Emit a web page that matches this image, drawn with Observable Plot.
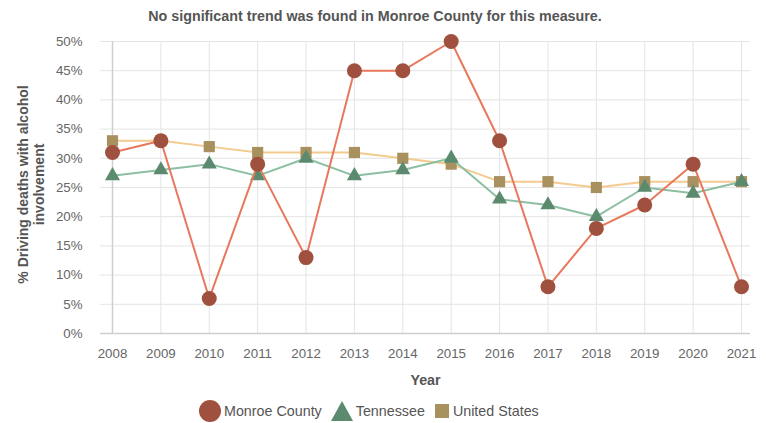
<!DOCTYPE html>
<html>
<head>
<meta charset="utf-8">
<script src="https://cdn.jsdelivr.net/npm/d3@7"></script>
<script src="https://cdn.jsdelivr.net/npm/@observablehq/plot@0.6"></script>
<style>
  body { margin: 0; background: #fff; font-family: "Liberation Sans", Arial, sans-serif; }
  #wrap { position: relative; width: 766px; height: 423px; overflow: hidden; }
  #title { position: absolute; top: 8px; left: 0; width: 750px; text-align: center; font-size: 14.3px; font-weight: bold; color: #555; }
  #chart { position: absolute; top: 30px; left: 0; }
  #legend { position: absolute; top: 399px; left: 0; width: 766px; display: flex; justify-content: flex-start; padding-left: 198px; box-sizing: border-box; align-items: center; font-size: 14.3px; color: #555; }
  .item { display: flex; align-items: center; margin-right: 8px; }
  .item svg { margin-right: 2px; }
</style>
</head>
<body>
<div id="wrap">
  <div id="title">No significant trend was found in Monroe County for this measure.</div>
  <div id="chart"></div>
  <div id="legend"></div>
</div>
<script>
const years = [2008, 2009, 2010, 2011, 2012, 2013, 2014, 2015, 2016, 2017, 2018, 2019, 2020, 2021];
const monroe = [31, 33, 6, 29, 13, 45, 45, 50, 33, 8, 18, 22, 29, 8];
const tennessee = [27, 28, 29, 27, 30, 27, 28, 30, 23, 22, 20, 25, 24, 26];
const unitedStates = [33, 33, 32, 31, 31, 31, 30, 29, 26, 26, 25, 26, 26, 26];
const yTicks = [0, 5, 10, 15, 20, 25, 30, 35, 40, 45, 50];
const seriesNames = ["Monroe County", "Tennessee", "United States"];

const mk = (vals) => years.map((x, i) => ({x, y: vals[i]}));
const dM = mk(monroe), dT = mk(tennessee), dU = mk(unitedStates);

const col = {
  mLine: "#E8785C", mDot: "#A0503F",
  tLine: "#8DBFA2", tDot: "#5B8A6F",
  uLine: "#F4CB8E", uDot: "#A8905F"
};

const chart = Plot.plot({
  width: 766,
  height: 362,
  marginTop: 11,
  marginBottom: 59,
  marginLeft: 100,
  marginRight: 16,
  style: {fontFamily: "Liberation Sans, Arial, sans-serif", fontSize: "13.3px", color: "#666", background: "transparent"},
  x: {type: "linear", domain: [2008, 2021], insetLeft: 12, insetRight: 9},
  y: {domain: [0, 50]},
  marks: [
    Plot.ruleY(yTicks, {stroke: "#e4e4e4", strokeWidth: 1}),
    Plot.ruleX(years, {stroke: "#e4e4e4", strokeWidth: 1, y1: 0, y2: 50}),
    Plot.ruleX([2008], {stroke: "#cfcfcf", strokeWidth: 1.5, y1: 0, y2: 50}),
    Plot.ruleY([0], {stroke: "#cfcfcf", strokeWidth: 1.5}),
    Plot.axisY({ticks: yTicks, tickSize: 0, tickPadding: 18, tickFormat: d => d + "%", label: null, fill: "#666", fontSize: 13.3}),
    Plot.axisX({ticks: years, tickSize: 0, tickPadding: 15, tickFormat: d => String(d), label: null, fill: "#666", fontSize: 13.3}),
    Plot.text(["% Driving deaths with alcohol\ninvolvement"], {frameAnchor: "left", textAnchor: "middle", rotate: -90, dx: -70, dy: -3, fontSize: 14, fontWeight: "bold", fill: "#555", lineHeight: 1.15}),
    Plot.text(["Year"], {frameAnchor: "bottom", dy: 51, fontSize: 14.3, fontWeight: "bold", fill: "#555"}),
    Plot.line(dU, {x: "x", y: "y", stroke: col.uLine, strokeWidth: 2}),
    Plot.dot(dU, {x: "x", y: "y", symbol: "square", r: 6.3, fill: col.uDot}),
    Plot.line(dT, {x: "x", y: "y", stroke: col.tLine, strokeWidth: 2}),
    Plot.dot(dT, {x: "x", y: "y", symbol: "triangle", r: 5.6, fill: col.tDot}),
    Plot.line(dM, {x: "x", y: "y", stroke: col.mLine, strokeWidth: 2}),
    Plot.dot(dM, {x: "x", y: "y", symbol: "circle", r: 7.5, fill: col.mDot})
  ]
});
document.getElementById("chart").appendChild(chart);

const icons = [
  `<svg width="24" height="24"><circle cx="12" cy="12" r="11" fill="${col.mDot}"/></svg>`,
  `<svg width="24" height="22"><polygon points="12,1 23,21 1,21" fill="${col.tDot}"/></svg>`,
  `<svg width="18" height="16"><rect x="2" y="1" width="14" height="14" fill="${col.uDot}"/></svg>`
];
const legend = document.getElementById("legend");
seriesNames.forEach((name, i) => {
  const it = document.createElement("div");
  it.className = "item";
  it.innerHTML = icons[i] + `<span>${name}</span>`;
  legend.appendChild(it);
});
</script>
</body>
</html>
